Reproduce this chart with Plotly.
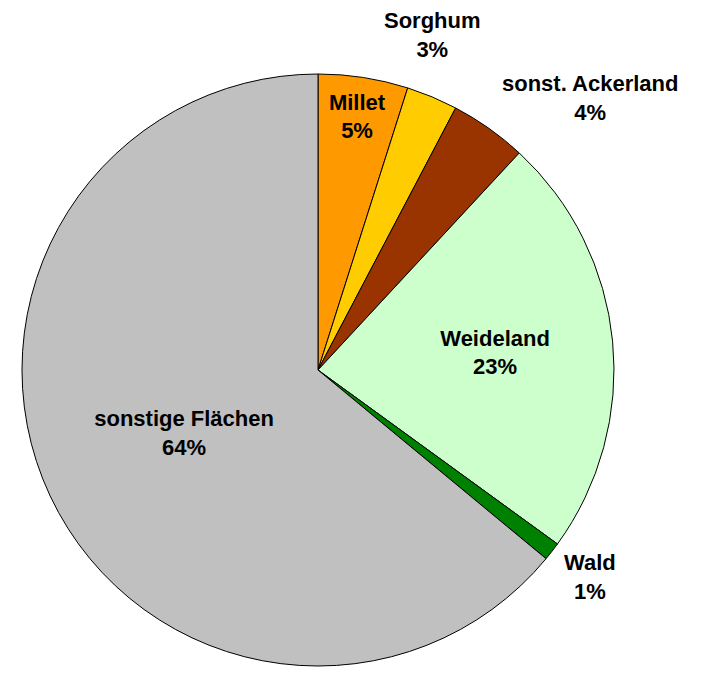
import plotly.graph_objects as go

labels = ["Millet", "Sorghum", "sonst. Ackerland", "Weideland", "Wald", "sonstige Flächen"]
values = [4.9, 2.8, 4.2, 23.1, 1.0, 64.0]
shown = ["5%", "3%", "4%", "23%", "1%", "64%"]
colors = ["#FF9900", "#FFCC00", "#993300", "#CCFFCC", "#008000", "#C0C0C0"]
inside = [True, False, False, True, False, True]

texts = [f"<b>{l}</b><br><b>{s}</b>" if i else "" for l, s, i in zip(labels, shown, inside)]

fig = go.Figure(go.Pie(
    labels=labels, values=values, text=texts, textinfo="text",
    sort=False, direction="clockwise", rotation=0,
    marker=dict(colors=colors, line=dict(color="black", width=1)),
    textposition="inside", insidetextorientation="horizontal",
    textfont=dict(family="Liberation Sans", size=22, color="black"),
    hoverinfo="label+percent",
))

# outside labels (paper coords of the pie domain)
outside = {1: (0.693, 1.066), 2: (0.959, 0.959), 4: (0.96, 0.15)}
for i, (x, y) in outside.items():
    fig.add_annotation(x=x, y=y, xref="paper", yref="paper", showarrow=False,
                       xanchor="center", yanchor="middle",
                       text=f"<b>{labels[i]}</b><br><b>{shown[i]}</b>",
                       font=dict(family="Liberation Sans", size=22, color="black"))

fig.update_layout(
    width=705, height=673, showlegend=False,
    margin=dict(l=14, r=99, t=66, b=15),
    paper_bgcolor="white", plot_bgcolor="white",
)
fig.write_html("out.html")
